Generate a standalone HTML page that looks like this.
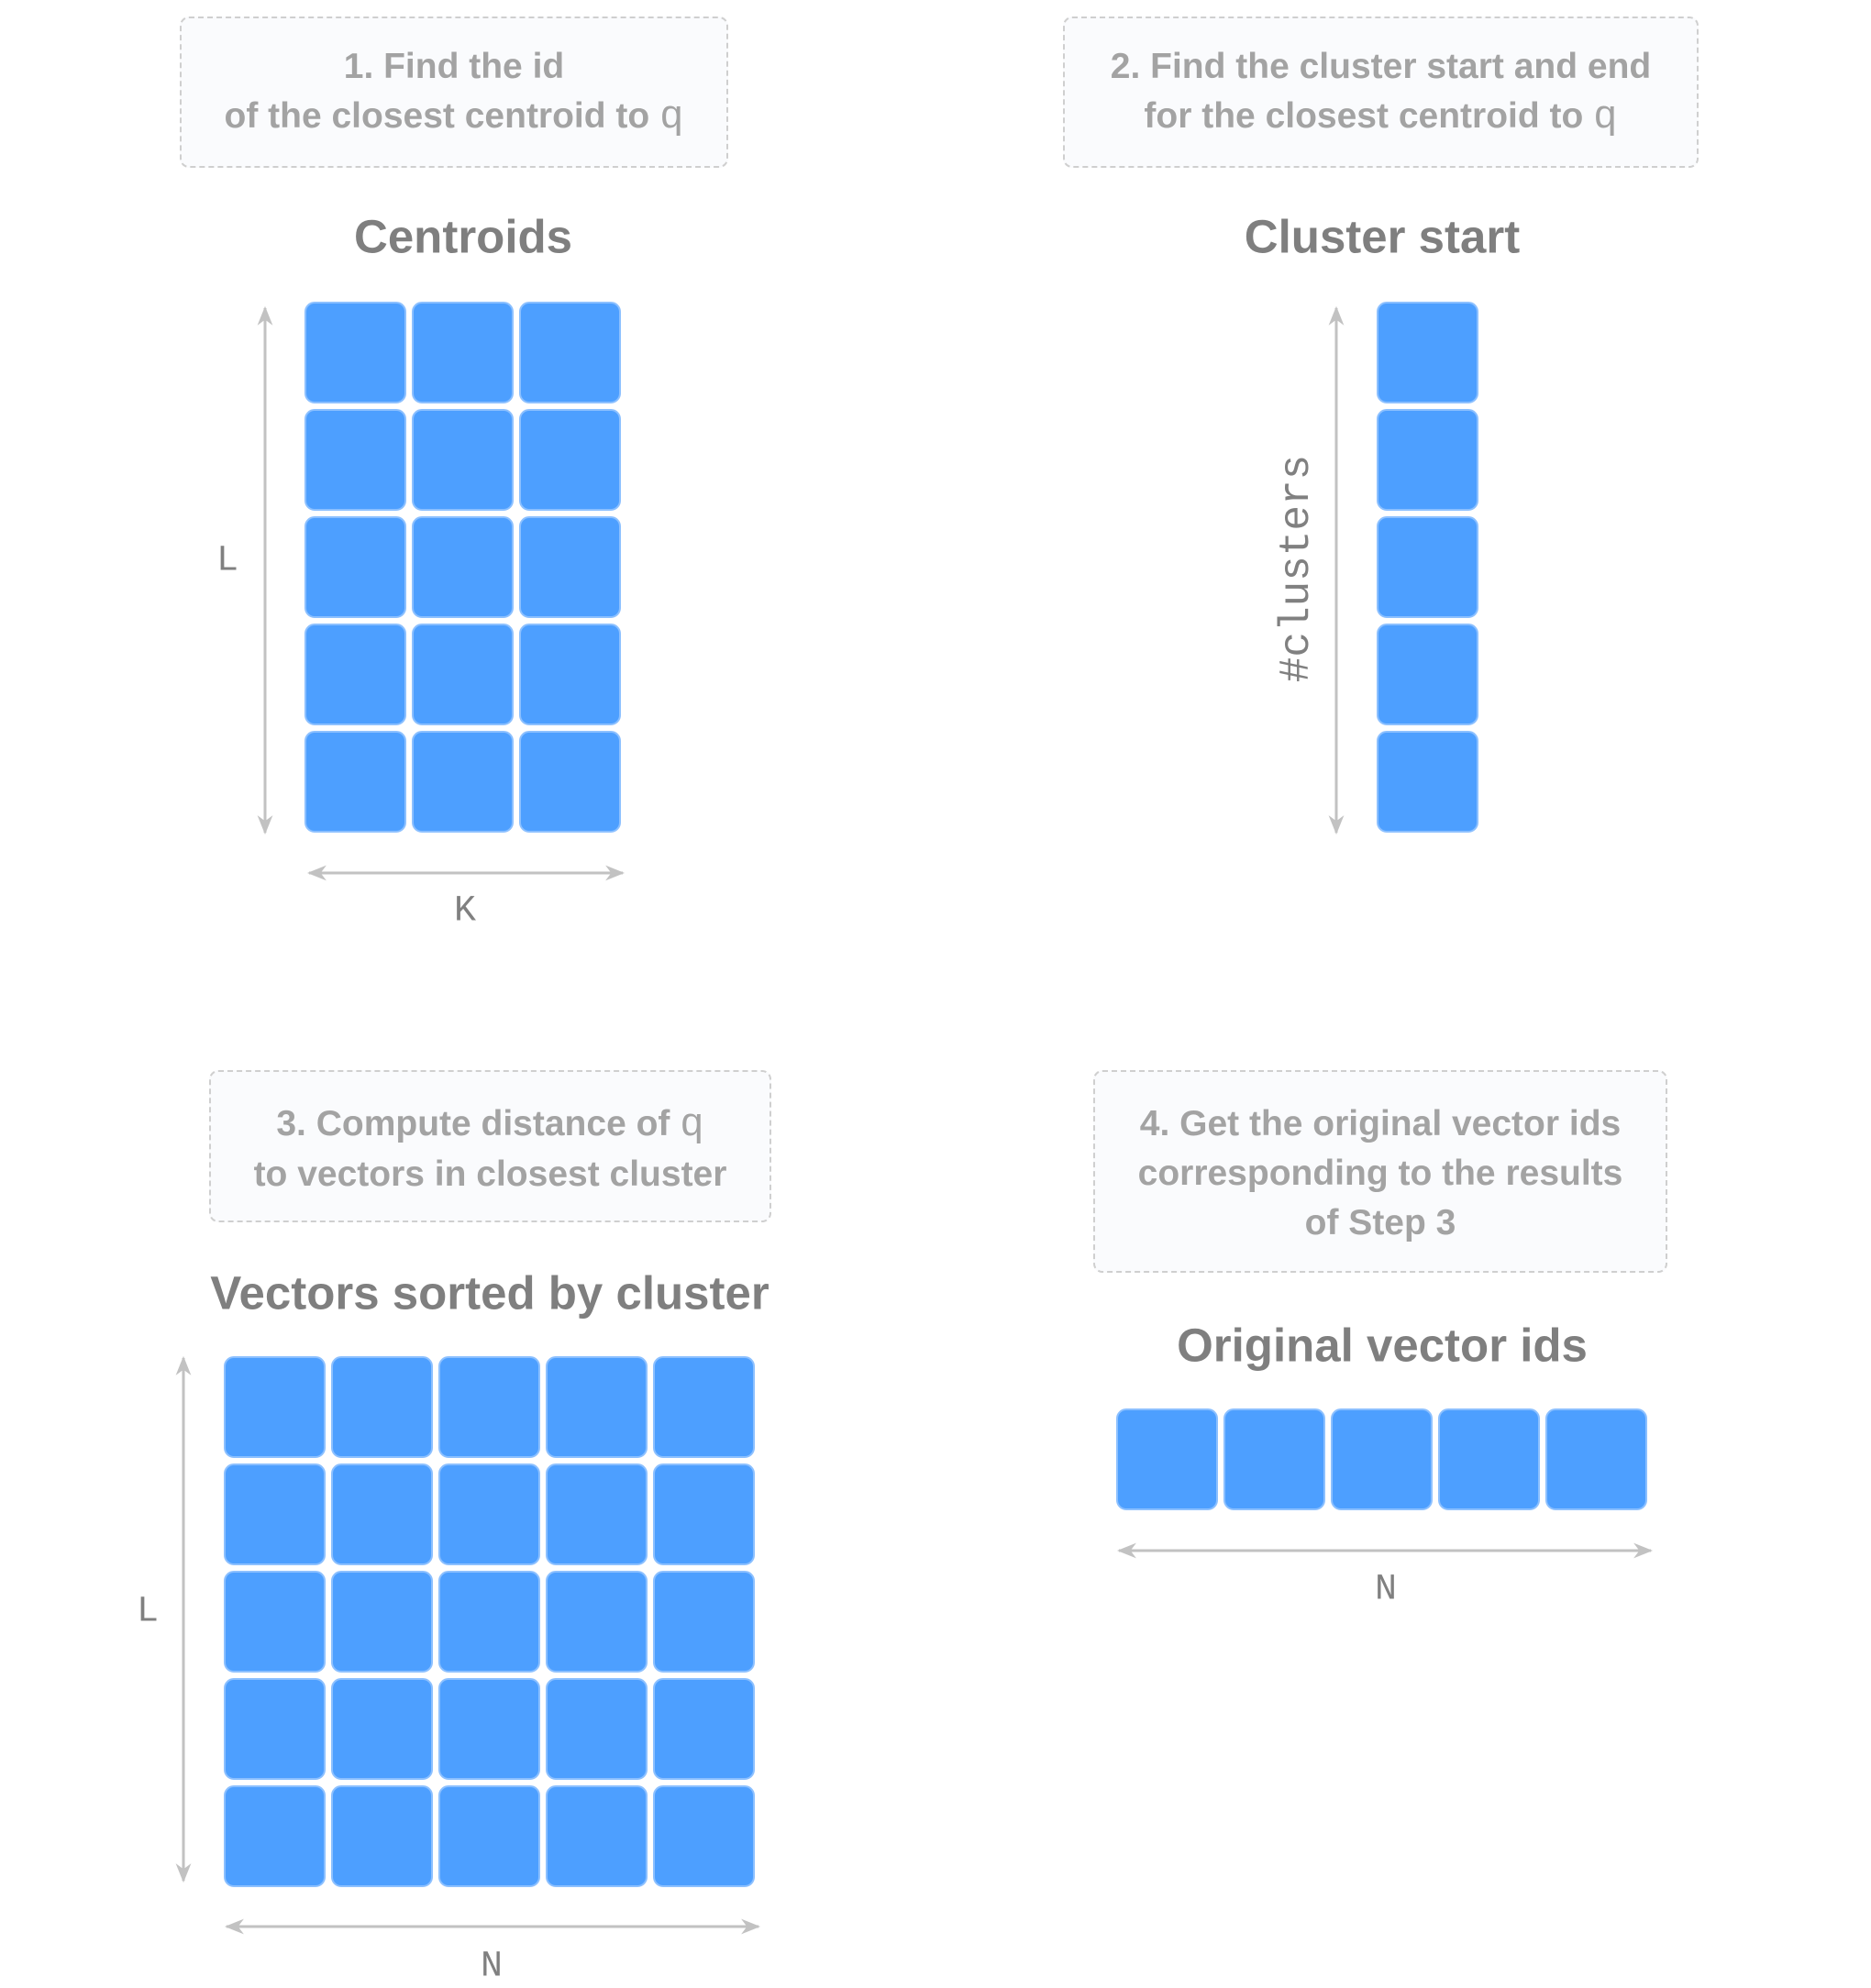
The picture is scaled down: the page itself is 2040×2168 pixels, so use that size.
<!DOCTYPE html>
<html><head><meta charset="utf-8"><style>
html,body{margin:0;padding:0;background:#fff;}
body{width:2040px;height:2163px;position:relative;overflow:hidden;font-family:"Liberation Sans",sans-serif;}
.box{position:absolute;border:2.5px dashed #cfcfcf;border-radius:10px;background:#fafbfd;box-sizing:border-box;color:#a3a3a3;font-size:39px;font-weight:bold;text-align:center;line-height:54px;}
.title{position:absolute;color:#7f7f7f;font-weight:bold;font-size:51px;transform:translate(-50%,-50%);white-space:nowrap;}
.mono{position:absolute;font-family:"Liberation Mono","Courier New",monospace;color:#808080;font-size:40px;transform:translate(-50%,-50%);}
.q{font-family:"Liberation Mono","Courier New",monospace;font-weight:normal;font-size:44px;}
.c{position:absolute;width:111px;height:111px;background:#4d9fff;border:2px solid #8cc0ff;border-radius:11px;box-sizing:border-box;}
svg{position:absolute;left:0;top:0;}
</style></head><body>
<div class="box" style="left:196px;top:18px;width:598px;height:165px;padding-top:26px;">1. Find the id<br>of the closest centroid to <span class="q">q</span></div>
<div class="box" style="left:1159px;top:18px;width:693px;height:165px;padding-top:26px;">2. Find the cluster start and end<br>for the closest centroid to <span class="q">q</span></div>
<div class="box" style="left:228px;top:1167px;width:613px;height:166px;padding-top:30px;">3. Compute distance of <span class="q">q</span><br>to vectors in closest cluster</div>
<div class="box" style="left:1192px;top:1167px;width:626px;height:221px;padding-top:30px;">4. Get the original vector ids<br>corresponding to the results<br>of Step 3</div>

<div class="title" style="left:505px;top:258px;">Centroids</div>
<div class="title" style="left:1507px;top:258px;">Cluster start</div>
<div class="title" style="left:534px;top:1410px;">Vectors sorted by cluster</div>
<div class="title" style="left:1507px;top:1467px;">Original vector ids</div>

<div id="g"></div>

<svg width="2040" height="2163">
<defs><marker id="a" viewBox="0 0 10 10" refX="9" refY="5" markerWidth="7" markerHeight="7" orient="auto-start-reverse"><path d="M0,1 L10,5 L0,9 L3,5z" fill="#c2c2c2"/></marker></defs>
<g stroke="#c2c2c2" stroke-width="3" marker-start="url(#a)" marker-end="url(#a)">
<line x1="289" y1="336" x2="289" y2="908"/>
<line x1="337" y1="952" x2="679" y2="952"/>
<line x1="1457" y1="336" x2="1457" y2="908"/>
<line x1="200" y1="1481" x2="200" y2="2051"/>
<line x1="247" y1="2101" x2="827" y2="2101"/>
<line x1="1220" y1="1691" x2="1800" y2="1691"/>
</g>
</svg>

<div class="mono" style="left:248px;top:612px;">L</div>
<div class="mono" style="left:507px;top:994px;">K</div>
<div class="mono" style="left:1414px;top:620px;transform:translate(-50%,-50%) rotate(-90deg);font-size:46px;white-space:nowrap;">#clusters</div>
<div class="mono" style="left:161px;top:1758px;">L</div>
<div class="mono" style="left:536px;top:2145px;">N</div>
<div class="mono" style="left:1511px;top:1734px;">N</div>

<script>
function grid(x,y,cols,rows){var h='';for(var r=0;r<rows;r++)for(var c=0;c<cols;c++)h+='<div class="c" style="left:'+(x+c*117)+'px;top:'+(y+r*117)+'px"></div>';return h;}
document.getElementById('g').innerHTML=grid(332,329,3,5)+grid(1501,329,1,5)+grid(244,1479,5,5)+grid(1217,1536,5,1);
</script>
</body></html>
